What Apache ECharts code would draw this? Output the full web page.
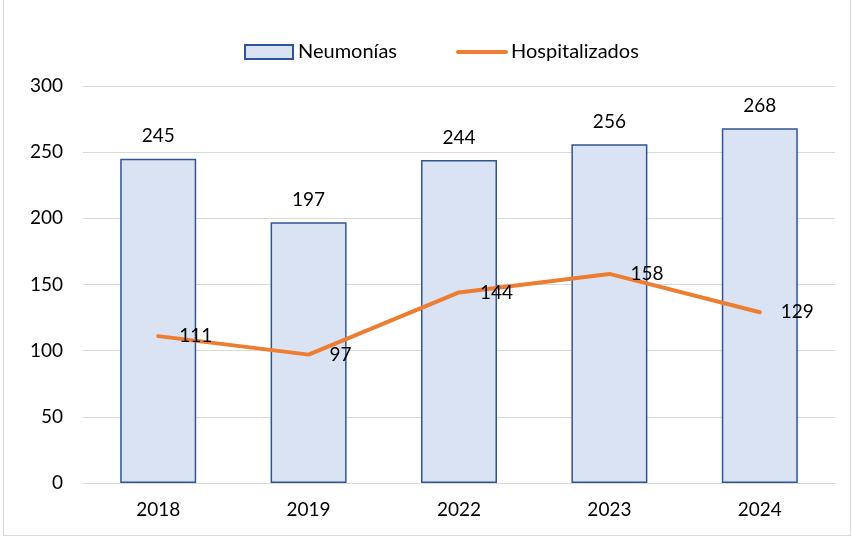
<!DOCTYPE html>
<html>
<head>
<meta charset="utf-8">
<script src="https://cdn.jsdelivr.net/npm/echarts@6/dist/echarts.min.js"></script>
<style>
  html, body { margin: 0; padding: 0; background: #fff; }
  #chart { position: absolute; left: 3px; top: -1px; width: 846px; height: 535px; border: 1px solid #d9d9d9; }
</style>
</head>
<body>
<div id="chart"></div>
<script>
var years = ['2018', '2019', '2022', '2023', '2024'];
var neumonias = [245, 197, 244, 256, 268];
var hospitalizados = [111, 97, 144, 158, 129];

var myChart = echarts.init(document.getElementById('chart'));
var font = 'Lato, "Open Sans", sans-serif';

var option = {
  animation: false,
  textStyle: { fontFamily: font },
  legend: {
    top: 42,
    left: 240,
    padding: 0,
    itemGap: 59,
    itemWidth: 48,
    itemHeight: 14,
    textStyle: { fontSize: 20, color: '#000', fontFamily: font },
    data: [
      { name: 'Neumonías', icon: 'rect' },
      { name: 'Hospitalizados', itemStyle: { opacity: 0 }, lineStyle: { width: 4, cap: 'round', opacity: 1 } }
    ]
  },
  grid: { left: 79, right: 15, top: 86, bottom: 52 },
  xAxis: {
    type: 'category',
    data: years,
    axisLine: { lineStyle: { color: '#d9d9d9', width: 1 } },
    axisTick: { show: false },
    axisLabel: { fontSize: 19, color: '#000', margin: 17, fontFamily: font }
  },
  yAxis: {
    type: 'value',
    min: 0,
    max: 300,
    interval: 50,
    axisLine: { show: false },
    axisTick: { show: false },
    splitLine: { lineStyle: { color: '#d9d9d9', width: 1 } },
    axisLabel: { fontSize: 19, color: '#000', margin: 20, fontFamily: font }
  },
  series: [
    {
      name: 'Neumonías',
      type: 'bar',
      data: neumonias,
      barWidth: 76,
      itemStyle: { color: '#dae3f3', borderColor: '#2f5597', borderWidth: 1.5 },
      label: { show: true, position: 'top', distance: 13, fontSize: 19, color: '#000', fontFamily: font }
    },
    {
      name: 'Hospitalizados',
      type: 'line',
      data: hospitalizados,
      symbol: 'none',
      lineStyle: { color: '#ed7d31', width: 4, cap: 'round' },
      itemStyle: { color: '#ed7d31' }
    },
    {
      // labels for the line, kept out of the legend
      name: 'hosp_labels',
      type: 'scatter',
      data: hospitalizados,
      symbolSize: 0,
      z: 5,
      itemStyle: { opacity: 1 },
      label: { show: true, position: 'right', distance: 21, fontSize: 19, color: '#000', fontFamily: font }
    }
  ]
};

myChart.setOption(option);
window.addEventListener('resize', function () {
  myChart.resize();
});
</script>
</body>
</html>
